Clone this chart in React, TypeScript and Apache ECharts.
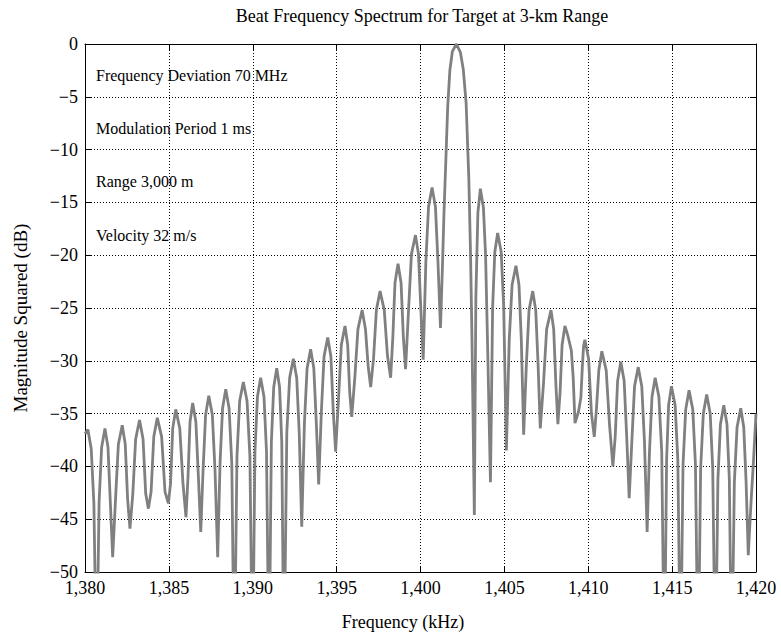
import React, { useEffect, useRef } from "react";
import * as echarts from "echarts";

// Spectrum: [frequency kHz, magnitude dB]
const leftSidelobes: [number, number][] = [
  [1380.0, -36.9], [1380.17, -36.5], [1380.37, -38.3], [1380.53, -43.5], [1380.69, -60],
  [1380.84, -43.4], [1380.99, -38.2], [1381.19, -36.4], [1381.37, -38.2], [1381.51, -43.4], [1381.65, -48.6],
  [1381.82, -43.1], [1381.99, -37.9], [1382.22, -36.1], [1382.4, -37.9], [1382.54, -43.1], [1382.68, -45.9],
  [1382.85, -42.6], [1383.02, -37.4], [1383.25, -35.6], [1383.46, -37.4], [1383.62, -42.6], [1383.78, -44.0],
  [1383.94, -42.4], [1384.1, -37.2], [1384.31, -35.4], [1384.57, -37.2], [1384.77, -42.4], [1384.97, -43.5],
  [1385.1, -41.6], [1385.23, -36.4], [1385.41, -34.6], [1385.65, -36.4], [1385.84, -41.6], [1386.02, -44.8],
  [1386.14, -41.0], [1386.26, -35.8], [1386.42, -34.0], [1386.61, -35.8], [1386.76, -41.0], [1386.9, -46.2],
  [1387.04, -40.3], [1387.19, -35.1], [1387.38, -33.3], [1387.59, -35.1], [1387.75, -40.3], [1387.91, -48.6],
  [1388.05, -39.7], [1388.2, -34.5], [1388.39, -32.7], [1388.59, -34.5], [1388.75, -39.7], [1388.9, -60],
  [1389.06, -39.0], [1389.22, -33.8], [1389.44, -32.0], [1389.66, -33.8], [1389.83, -39.0], [1389.99, -60],
  [1390.13, -38.6], [1390.28, -33.4], [1390.47, -31.6], [1390.67, -33.4], [1390.82, -38.6], [1390.97, -60],
  [1391.11, -37.7], [1391.25, -32.5], [1391.43, -30.7], [1391.6, -32.5], [1391.73, -37.7], [1391.86, -60],
  [1392.03, -36.8], [1392.2, -31.6], [1392.42, -29.8], [1392.62, -31.6], [1392.77, -36.8], [1392.92, -45.7],
  [1393.08, -35.9], [1393.24, -30.7], [1393.45, -28.9], [1393.64, -30.7], [1393.79, -35.9], [1393.93, -41.7],
  [1394.09, -34.8], [1394.25, -29.6], [1394.47, -27.8], [1394.66, -29.6], [1394.8, -34.8], [1394.94, -38.6],
  [1395.11, -33.7], [1395.28, -28.5], [1395.5, -26.7], [1395.66, -28.5], [1395.78, -33.0], [1395.9, -35.3],
  [1396.09, -31.5], [1396.27, -27.0], [1396.52, -25.2], [1396.72, -27.0], [1396.88, -30.5], [1397.03, -32.5],
  [1397.2, -29.8], [1397.37, -25.2], [1397.59, -23.4], [1397.84, -25.2], [1398.03, -29.5], [1398.22, -31.6],
  [1398.35, -27.8], [1398.48, -22.6], [1398.66, -20.8], [1398.84, -22.6], [1398.98, -27.8], [1399.11, -30.8],
  [1399.29, -25.1], [1399.46, -19.9], [1399.7, -18.1], [1399.88, -19.9], [1400.02, -25.1], [1400.16, -29.9],
  [1400.32, -20.6], [1400.48, -15.4], [1400.69, -13.6], [1400.89, -15.4], [1401.04, -20.6],
];

const mainLobe: [number, number][] = [
  [1401.19, -26.9], [1401.3, -21.5], [1401.4, -16.0], [1401.5, -11.5], [1401.62, -6.0], [1401.75, -2.5],
  [1401.9, -0.7], [1402.14, 0], [1402.38, -0.8], [1402.55, -2.4], [1402.72, -5.6], [1402.88, -12.7],
  [1402.98, -19.7], [1403.06, -27.0], [1403.13, -35.0], [1403.21, -44.6],
];

const rightSidelobes: [number, number][] = [
  [1403.3, -24.0], [1403.42, -16.0], [1403.57, -13.7], [1403.75, -15.5], [1403.88, -20.0], [1404.02, -30.0], [1404.17, -41.5],
  [1404.3, -24.9], [1404.43, -19.7], [1404.6, -17.9], [1404.81, -19.7], [1404.96, -24.9], [1405.12, -38.5],
  [1405.29, -28.0], [1405.46, -22.8], [1405.69, -21.0], [1405.87, -22.8], [1406.01, -28.0], [1406.15, -37.0],
  [1406.31, -30.4], [1406.47, -25.2], [1406.69, -23.4], [1406.87, -25.2], [1407.01, -30.4], [1407.14, -36.4],
  [1407.33, -32.2], [1407.52, -27.0], [1407.78, -25.2], [1407.94, -27.0], [1408.07, -32.2], [1408.19, -36.0],
  [1408.32, -33.0], [1408.44, -28.5], [1408.61, -26.7], [1408.78, -27.6], [1408.99, -29.0], [1409.1, -31.5], [1409.21, -35.9],
  [1409.42, -34.8], [1409.56, -33.5], [1409.65, -30.5], [1409.72, -28.6], [1409.8, -28.0], [1410.02, -29.8], [1410.19, -35.0], [1410.36, -37.2],
  [1410.49, -34.5], [1410.63, -30.9], [1410.81, -29.1], [1411.07, -30.9], [1411.27, -36.1], [1411.47, -40.0],
  [1411.61, -37.1], [1411.75, -31.9], [1411.94, -30.1], [1412.14, -31.9], [1412.29, -37.1], [1412.44, -43.0],
  [1412.6, -37.6], [1412.76, -32.4], [1412.98, -30.6], [1413.19, -32.4], [1413.35, -37.6], [1413.51, -46.2],
  [1413.65, -38.6], [1413.8, -33.4], [1413.99, -31.6], [1414.21, -33.4], [1414.38, -38.6], [1414.54, -60],
  [1414.67, -39.4], [1414.79, -34.2], [1414.96, -32.4], [1415.18, -34.2], [1415.34, -39.4], [1415.5, -60],
  [1415.65, -39.8], [1415.81, -34.6], [1416.01, -32.8], [1416.23, -34.6], [1416.39, -39.8], [1416.55, -60],
  [1416.7, -40.2], [1416.86, -35.0], [1417.06, -33.2], [1417.27, -35.0], [1417.42, -40.2], [1417.58, -60],
  [1417.73, -41.2], [1417.88, -36.0], [1418.08, -34.2], [1418.27, -36.0], [1418.41, -41.2], [1418.55, -60],
  [1418.71, -41.5], [1418.87, -36.3], [1419.09, -34.5], [1419.27, -36.3], [1419.41, -41.5], [1419.54, -48.4],
  [1419.7, -43.5], [1419.85, -39.5], [1420.0, -35.0],
];

const xTicks = { min: 1380, max: 1420, interval: 5 };
const yTicks = { min: -50, max: 0, interval: 5 };

const annotations = [
  "Frequency Deviation 70 MHz",
  "Modulation Period 1 ms",
  "Range 3,000 m",
  "Velocity 32 m/s",
];
const annotationY = [75, 128, 181, 235];

const chartTitle = "Beat Frequency Spectrum for Target at 3-km Range";
const xName = "Frequency (kHz)";
const yName = "Magnitude Squared (dB)";

const FONT = '"Liberation Serif", "Times New Roman", serif';

export default function App() {
  const ref = useRef<HTMLDivElement>(null);

  useEffect(() => {
    if (!ref.current) return;
    const chart = echarts.init(ref.current, undefined, { renderer: "svg" });

    const fmtX = (v: number) => v.toLocaleString("en-US");
    const fmtY = (v: number) => (v < 0 ? "\u2212" + Math.abs(v) : String(v));

    const axisLine = { show: true, onZero: false, lineStyle: { color: "#000", width: 1 } };
    const tick = { show: true, inside: true, length: 6, lineStyle: { color: "#000", width: 1 } };
    const grid = { show: true, lineStyle: { color: "#000", width: 1, type: [1, 2] } };

    const option: any = {
      animation: false,
      backgroundColor: "#fff",
      grid: { left: 85, right: 25, top: 44, bottom: 63, containLabel: false },
      xAxis: [
        {
          type: "value", position: "bottom", ...xTicks,
          axisLine, axisTick: tick, splitLine: grid,
          axisLabel: { formatter: fmtX, color: "#000", fontFamily: FONT, fontSize: 18, margin: 7 },
        },
        {
          type: "value", position: "top", ...xTicks,
          axisLine, axisTick: tick, splitLine: { show: false }, axisLabel: { show: false },
        },
      ],
      yAxis: [
        {
          type: "value", position: "left", ...yTicks,
          axisLine, axisTick: tick, splitLine: grid,
          axisLabel: { formatter: fmtY, color: "#000", fontFamily: FONT, fontSize: 18, margin: 7 },
        },
        {
          type: "value", position: "right", ...yTicks,
          axisLine, axisTick: tick, splitLine: { show: false }, axisLabel: { show: false },
        },
      ],
      series: [
        {
          type: "line",
          xAxisIndex: 0,
          yAxisIndex: 0,
          data: [...leftSidelobes, ...mainLobe, ...rightSidelobes],
          showSymbol: false,
          symbol: "none",
          lineStyle: { color: "#808080", width: 2.8 },
          clip: true,
        },
      ],
      graphic: [
        {
          type: "text", x: 422, y: 16,
          style: { text: chartTitle, fontSize: 18, fontFamily: FONT, fill: "#000", textAlign: "center", textVerticalAlign: "middle" },
        },
        {
          type: "text", x: 403, y: 622,
          style: { text: xName, fontSize: 18, fontFamily: FONT, fill: "#000", textAlign: "center", textVerticalAlign: "middle" },
        },
        {
          type: "text", x: 20, y: 318, rotation: Math.PI / 2,
          style: { text: yName, fontSize: 19, fontFamily: FONT, fill: "#000", textAlign: "center", textVerticalAlign: "middle" },
        },
        ...annotations.map((t, i) => ({
          type: "text", x: 96, y: annotationY[i],
          style: { text: t, fontSize: 16, fontFamily: FONT, fill: "#000", textAlign: "left", textVerticalAlign: "middle" },
        })),
      ],
    };

    chart.setOption(option);
    return () => chart.dispose();
  }, []);

  return (
    <div
      ref={ref}
      style={{ position: "absolute", left: 0, top: 0, width: 781, height: 635, background: "#fff" }}
    />
  );
}
